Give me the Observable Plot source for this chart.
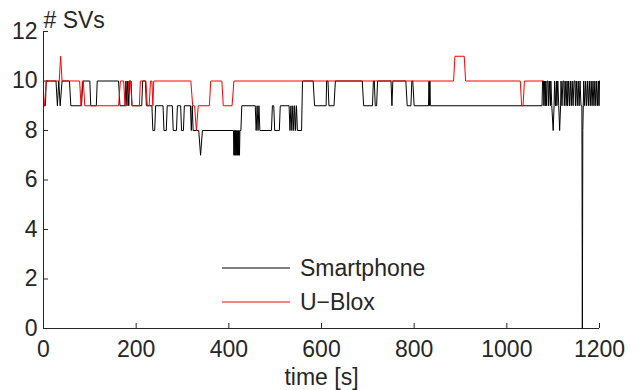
<!DOCTYPE html>
<html>
<head>
<meta charset="utf-8">
<script src="https://cdn.jsdelivr.net/npm/d3@7"></script>
<script src="https://cdn.jsdelivr.net/npm/@observablehq/plot@0.6"></script>
<style>
  html, body { margin: 0; padding: 0; background: #fff; }
  #chart svg { display: block; }
</style>
</head>
<body>
<div id="chart"></div>
<script>
// Axis ticks
const timeTicks = [0, 200, 400, 600, 800, 1000, 1200];
const svTicks = [0, 2, 4, 6, 8, 10, 12];

// Receiver names (legend order)
const receivers = ["Smartphone", "U-Blox"];
const receiverColors = ["#000000", "#ff0000"];

// Smartphone: number of tracked satellites over time
const phoneTime = [
  0, 4, 6, 27, 30, 33, 36, 40, 56, 59, 82, 85, 100, 102, 114, 116, 162, 165, 176, 178,
  180, 182, 184, 186, 189, 191, 212, 214, 220, 222, 234, 236, 240, 242, 258, 260, 265, 267, 278, 280,
  287, 289, 296, 298, 302, 304, 317, 319, 321, 323, 335, 339, 343, 410, 411, 412, 413, 414, 415, 416,
  417, 418, 419, 420, 421, 422, 423, 424, 426, 428, 457, 459, 461, 463, 465, 467, 492, 494, 497, 499,
  509, 511, 530, 532, 534, 536, 538, 540, 542, 544, 546, 548, 557, 559, 582, 585, 610, 611, 614, 616,
  627, 630, 688, 691, 710, 712, 714, 716, 719, 721, 750, 752, 754, 782, 785, 793, 795, 797, 800, 831,
  832, 833, 834, 835, 1076, 1077, 1079, 1080, 1081, 1083, 1084, 1086, 1087, 1089, 1090, 1092, 1094, 1095, 1097, 1100,
  1102, 1103, 1105, 1107, 1108, 1110, 1112, 1114, 1116, 1117, 1119, 1121, 1123, 1124, 1126, 1128, 1130, 1131, 1133, 1135,
  1137, 1139, 1141, 1143, 1145, 1147, 1148, 1150, 1152, 1154, 1156, 1158, 1160, 1162, 1163, 1164, 1166, 1168, 1170, 1172,
  1174, 1176, 1178, 1180, 1182, 1184, 1186, 1188, 1190, 1192, 1194, 1196, 1198, 1199, 1200
];
const phoneSVs = [
  9, 9, 10, 10, 9, 10, 9, 10, 10, 9, 9, 10, 10, 9, 9, 10, 10, 9, 9, 10,
  9, 10, 9, 10, 10, 9, 9, 10, 10, 9, 9, 8, 8, 9, 9, 8, 8, 9, 9, 8,
  8, 9, 9, 8, 8, 9, 9, 8, 9, 8, 8, 7, 8, 8, 7, 8, 7, 8, 7, 8,
  7, 8, 7, 8, 7, 8, 7, 8, 8, 9, 9, 8, 9, 8, 9, 8, 8, 9, 9, 8,
  8, 9, 9, 8, 9, 8, 9, 8, 9, 8, 9, 8, 8, 10, 10, 9, 9, 10, 10, 9,
  9, 10, 10, 9, 9, 10, 10, 9, 9, 10, 10, 9, 10, 10, 9, 9, 10, 10, 9, 9,
  10, 9, 10, 9, 9, 10, 10, 9, 10, 9, 10, 9, 10, 10, 9, 10, 9, 10, 9, 8,
  9, 10, 9, 10, 9, 10, 9, 8, 9, 10, 9, 10, 10, 9, 10, 9, 10, 9, 10, 9,
  10, 9, 10, 9, 10, 10, 9, 10, 9, 10, 9, 10, 9, 9, 0, 8, 10, 9, 10, 9,
  10, 9, 10, 9, 10, 9, 10, 9, 10, 9, 10, 9, 10, 9, 10
];

// U-Blox: number of tracked satellites over time
const ubloxTime = [
  0, 2, 6, 34, 37, 40, 78, 81, 84, 86, 89, 162, 166, 173, 176, 180, 184, 188, 191, 207,
  209, 221, 224, 228, 231, 234, 236, 238, 318, 322, 326, 330, 334, 358, 361, 385, 388, 407, 411, 885,
  888, 908, 911, 1029, 1032, 1035, 1038, 1078
];
const ubloxSVs = [
  9, 9, 10, 10, 11, 10, 10, 9, 10, 10, 9, 9, 10, 10, 9, 9, 10, 10, 9, 9,
  10, 10, 9, 9, 10, 10, 9, 10, 10, 9, 9, 8, 9, 9, 10, 10, 9, 9, 10, 10,
  11, 11, 10, 10, 9, 9, 10, 10
];

const yLabel = "# SVs";
const xLabel = "time [s]";

const phone = phoneTime.map((t, i) => ({time: t, svs: phoneSVs[i]}));
const ublox = ubloxTime.map((t, i) => ({time: t, svs: ubloxSVs[i]}));

const W = 641, H = 390;
const mL = 43, mR = 42, mT = 31, mB = 62;
const innerW = W - mL - mR, innerH = H - mT - mB;
const ink = "#262626";
const tickLen = 5;
const fontFamily = "'Liberation Sans', Arial, Helvetica, sans-serif";
const fontSize = 23;

const chart = Plot.plot({
  width: W,
  height: H,
  marginLeft: mL,
  marginRight: mR,
  marginTop: mT,
  marginBottom: mB,
  style: {
    fontFamily,
    fontSize: fontSize + "px",
    color: ink,
    background: "#fff",
    overflow: "visible"
  },
  x: {domain: [0, 1200], ticks: timeTicks, tickSize: 0, tickPadding: 12, tickFormat: "d", label: null},
  y: {domain: [0, 12], ticks: svTicks, tickSize: 0, tickPadding: 6, tickFormat: "d", label: null},
  marks: [
    // axis lines (left and bottom only)
    Plot.ruleX([0], {stroke: ink, strokeWidth: 1}),
    Plot.ruleY([0], {stroke: ink, strokeWidth: 1}),
    // inward-pointing ticks
    Plot.ruleX(timeTicks, {stroke: ink, strokeWidth: 1, insetTop: innerH - tickLen}),
    Plot.ruleY(svTicks, {stroke: ink, strokeWidth: 1, insetRight: innerW - tickLen}),
    // series
    Plot.line(phone, {x: "time", y: "svs", stroke: receiverColors[0], strokeWidth: 1}),
    Plot.line(ublox, {x: "time", y: "svs", stroke: receiverColors[1], strokeWidth: 1}),
    // axis titles
    Plot.text([yLabel], {frameAnchor: "top-left", textAnchor: "start", lineAnchor: "bottom", dy: -4, fontSize, fill: ink}),
    Plot.text([xLabel], {frameAnchor: "bottom", lineAnchor: "bottom", dy: 56, fontSize, fill: ink})
  ]
});

// legend inside the plot area, below the traces
const legend = d3.select(chart).append("g")
  .attr("font-family", fontFamily)
  .attr("font-size", fontSize)
  .attr("text-anchor", "start")
  .attr("fill", ink);
receivers.forEach((name, i) => {
  const y = 268 + i * 34;
  legend.append("line")
    .attr("x1", 222).attr("x2", 290).attr("y1", y).attr("y2", y)
    .attr("stroke", receiverColors[i]).attr("stroke-width", 1);
  legend.append("text")
    .attr("x", 300).attr("y", y).attr("dy", "0.35em")
    .attr("text-anchor", "start")
    .text(name.replace("-", "\u2212"));
});

document.getElementById("chart").appendChild(chart);
</script>
</body>
</html>
